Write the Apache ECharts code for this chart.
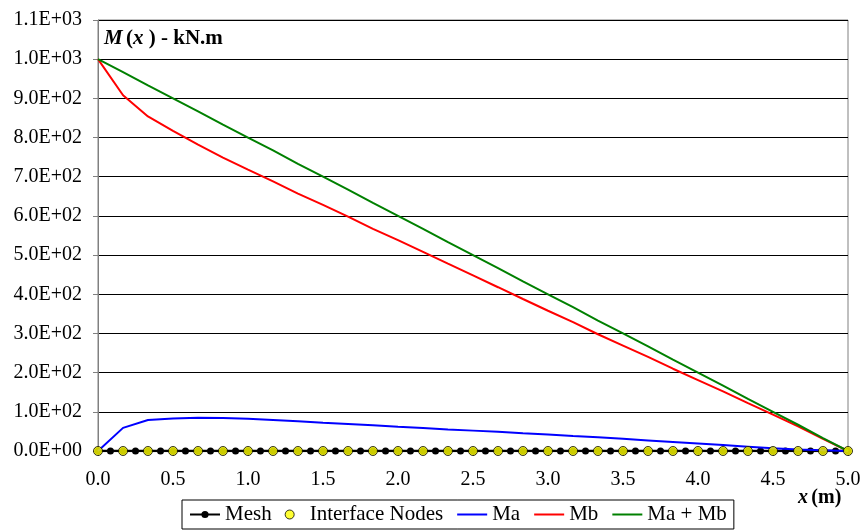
<!DOCTYPE html>
<html>
<head>
<meta charset="utf-8">
<script src="https://cdn.jsdelivr.net/npm/echarts@6/dist/echarts.min.js"></script>
<style>html,body{margin:0;padding:0;background:#fff;}#c{width:865px;height:531px;}</style>
</head>
<body>
<div id="c"></div>
<script>
// x positions of interface nodes (m)
var nodeX = [0, 0.167, 0.333, 0.5, 0.667, 0.833, 1.0, 1.167, 1.333, 1.5, 1.667, 1.833, 2.0, 2.167, 2.333, 2.5, 2.667, 2.833, 3.0, 3.167, 3.333, 3.5, 3.667, 3.833, 4.0, 4.167, 4.333, 4.5, 4.667, 4.833, 5.0];
// x positions of mesh points (m)
var meshX = [0, 0.083, 0.167, 0.25, 0.333, 0.417, 0.5, 0.583, 0.667, 0.75, 0.833, 0.917, 1.0, 1.083, 1.167, 1.25, 1.333, 1.417, 1.5, 1.583, 1.667, 1.75, 1.833, 1.917, 2.0, 2.083, 2.167, 2.25, 2.333, 2.417, 2.5, 2.583, 2.667, 2.75, 2.833, 2.917, 3.0, 3.083, 3.167, 3.25, 3.333, 3.417, 3.5, 3.583, 3.667, 3.75, 3.833, 3.917, 4.0, 4.083, 4.167, 4.25, 4.333, 4.417, 4.5, 4.583, 4.667, 4.75, 4.833, 4.917, 5.0];
// bending moments at interface nodes (kN.m)
var Ma = [0, 59, 79, 83, 85, 84, 82, 79, 76, 72, 69, 66, 62, 59, 55, 52, 49, 45, 42, 38, 35, 31, 27, 23, 19, 15, 11, 7, 4, 2, 0];
var Mb = [1000, 908, 854, 817, 782, 749, 718, 688, 657, 628, 598, 567, 538, 508, 478, 448, 418, 388, 358, 329, 298, 269, 240, 210, 181, 152, 122, 93, 63, 31, 0];
var MaMb = [1000, 967, 933, 900, 867, 833, 800, 767, 733, 700, 667, 633, 600, 567, 533, 500, 467, 433, 400, 367, 333, 300, 267, 233, 200, 167, 133, 100, 67, 33, 0];
var seriesNames = ['Mesh', 'Interface Nodes', 'Ma', 'Mb', 'Ma + Mb'];

function pair(xs, ys) { return xs.map(function (x, i) { return [x, ys ? ys[i] : 0]; }); }
function sci(v) {
  if (v === 0) return '0.0E+00';
  var e = Math.floor(Math.log10(v) + 1e-9);
  var m = v / Math.pow(10, e);
  var es = (e < 10 ? '0' : '') + e;
  return m.toFixed(1) + 'E+' + es;
}
var FF = 'Liberation Serif';
var chart = echarts.init(document.getElementById('c'), null, {renderer: 'canvas'});
chart.setOption({
  animation: false,
  backgroundColor: '#fff',
  textStyle: {fontFamily: FF},
  grid: {left: 98, right: 17, top: 20, bottom: 80, show: true, borderColor: '#808080', borderWidth: 1, backgroundColor: 'transparent'},
  xAxis: {
    type: 'value', min: 0, max: 5, interval: 0.5,
    axisLine: {show: true, onZero: false, lineStyle: {color: '#808080', width: 1}},
    axisTick: {show: true, length: 5, lineStyle: {color: '#808080'}},
    axisLabel: {color: '#000', fontFamily: FF, fontSize: 20, margin: 19, formatter: function (v) { return v.toFixed(1); }},
    splitLine: {show: false}
  },
  yAxis: {
    type: 'value', min: 0, max: 1100, interval: 100,
    axisLine: {show: true, lineStyle: {color: '#808080', width: 1}},
    axisTick: {show: true, length: 5, lineStyle: {color: '#808080'}},
    axisLabel: {color: '#000', fontFamily: FF, fontSize: 20, margin: 16, formatter: sci},
    splitLine: {show: true, lineStyle: {color: '#000', width: 1}}
  },
  legend: {
    left: 182, top: 500,
    data: [
      {name: seriesNames[0]},
      {name: seriesNames[1], icon: 'circle', itemStyle: {color: '#ffff00', borderColor: '#000', borderWidth: 1}},
      {name: seriesNames[2], itemStyle: {opacity: 0}},
      {name: seriesNames[3], itemStyle: {opacity: 0}},
      {name: seriesNames[4], itemStyle: {opacity: 0}}
    ],
    borderColor: '#000', borderWidth: 1, padding: [4, 7, 4, 7],
    itemWidth: 30, itemHeight: 9, itemGap: 13,
    textStyle: {fontFamily: FF, fontSize: 21, color: '#000'}
  },
  series: [
    {name: seriesNames[0], type: 'line', data: pair(meshX), symbol: 'circle', symbolSize: 7,
      itemStyle: {color: '#000'}, lineStyle: {color: '#000', width: 2.5}, z: 2},
    {name: seriesNames[2], type: 'line', data: pair(nodeX, Ma), symbol: 'none',
      lineStyle: {color: '#0000ff', width: 2}, itemStyle: {color: '#0000ff'}, z: 3},
    {name: seriesNames[3], type: 'line', data: pair(nodeX, Mb), symbol: 'none',
      lineStyle: {color: '#ff0000', width: 2}, itemStyle: {color: '#ff0000'}, z: 3},
    {name: seriesNames[4], type: 'line', data: pair(nodeX, MaMb), symbol: 'none',
      lineStyle: {color: '#008000', width: 2}, itemStyle: {color: '#008000'}, z: 3},
    {name: seriesNames[1], type: 'scatter', data: pair(nodeX), symbol: 'circle', symbolSize: 9,
      itemStyle: {color: '#ffff00', borderColor: '#000', borderWidth: 1}, z: 5}
  ],
  graphic: [
    {type: 'text', left: 104, top: 28, z: 10, style: {
      text: '{bi|M} {b|(}{bi|x}{b| ) - kN.m}',
      rich: {
        bi: {fontFamily: FF, fontSize: 21, fontWeight: 'bold', fontStyle: 'italic', fill: '#000'},
        b: {fontFamily: FF, fontSize: 21, fontWeight: 'bold', fill: '#000'}
      }}},
    {type: 'text', left: 798, top: 488, z: 10, style: {
      text: '{bi|x} {b|(m)}',
      rich: {
        bi: {fontFamily: FF, fontSize: 20, fontWeight: 'bold', fontStyle: 'italic', fill: '#000'},
        b: {fontFamily: FF, fontSize: 20, fontWeight: 'bold', fill: '#000'}
      }}}
  ]
});
</script>
</body>
</html>
